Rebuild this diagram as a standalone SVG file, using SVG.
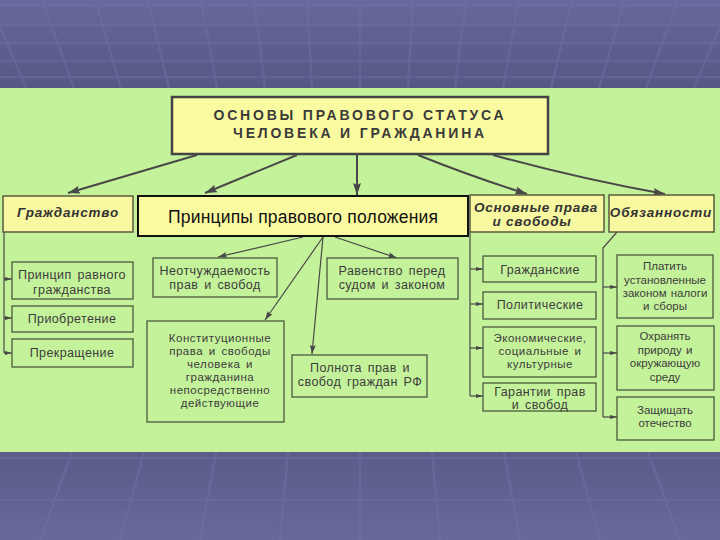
<svg xmlns="http://www.w3.org/2000/svg" width="720" height="540" viewBox="0 0 720 540">
<defs>
<linearGradient id="gTop" x1="0" y1="0" x2="0" y2="1"><stop offset="0" stop-color="#68689c"/><stop offset="1" stop-color="#555783"/></linearGradient>
<linearGradient id="gBot" x1="0" y1="0" x2="0" y2="1"><stop offset="0" stop-color="#5c5c8a"/><stop offset="1" stop-color="#68689a"/></linearGradient>
<marker id="aL" markerUnits="userSpaceOnUse" viewBox="0 0 12 8" markerWidth="12" markerHeight="8" refX="12" refY="4" orient="auto"><path d="M0,0 L12,4 L0,8 L2,4 z" fill="#484848"/></marker>
<marker id="aS" markerUnits="userSpaceOnUse" viewBox="0 0 9 6" markerWidth="9" markerHeight="6" refX="9" refY="3" orient="auto"><path d="M0,0 L9,3 L0,6 L1.5,3 z" fill="#484848"/></marker>
<marker id="aT" markerUnits="userSpaceOnUse" viewBox="0 0 7 4" markerWidth="7" markerHeight="4" refX="7" refY="2" orient="auto"><path d="M0,0 L7,2 L0,4 z" fill="#484848"/></marker>
</defs>
<style>
.grid{stroke:#7272a6;stroke-width:2.5;opacity:0.45;fill:none}
.box{fill:none;stroke:#4b5a3c;stroke-width:1.3}
.hdr{fill:#f8f8a0;stroke:#5a5a40;stroke-width:1.5}
.t{font-family:"Liberation Sans",Arial,sans-serif;font-size:12.5px;fill:#3c3c3c;text-anchor:middle;letter-spacing:0.4px;word-spacing:2px}
.ts{font-family:"Liberation Sans",Arial,sans-serif;font-size:11.5px;fill:#3c3c3c;text-anchor:middle;letter-spacing:0.5px;word-spacing:2px}
.t2{font-family:"Liberation Sans",Arial,sans-serif;font-size:11.5px;fill:#3c3c3c;text-anchor:middle;word-spacing:1px}
.h{font-family:"Liberation Sans",Arial,sans-serif;font-size:13.5px;font-weight:bold;font-style:italic;fill:#333;text-anchor:middle;letter-spacing:0.8px}
.c1{stroke:#484848;stroke-width:2;fill:none;marker-end:url(#aL)}
.c2{stroke:#484848;stroke-width:1.2;fill:none;marker-end:url(#aS)}
.c3{stroke:#484848;stroke-width:1.2;fill:none}
.c4{stroke:#484848;stroke-width:1.2;fill:none;marker-end:url(#aT)}
</style>
<g id="background">
<rect x="0" y="0" width="720" height="540" fill="#60608f"/>
<rect x="0" y="0" width="720" height="88" fill="url(#gTop)"/>
<rect x="0" y="452" width="720" height="88" fill="url(#gBot)"/>
<path class="grid" d="M0,5H720M0,25H720M0,43H720M0,61H720M0,77H720
M-11,0L26,88M42,0L74,88M95,0L121,88M148,0L169,88M201,0L217,88M254,0L265,88M307,0L312,88M360,0L360,88M413,0L408,88M466,0L455,88M519,0L503,88M572,0L551,88M625,0L599,88M678,0L646,88M731,0L694,88"/>
<path class="grid" d="M0,458H720M0,500H720
M-72,452L-120,540M0,452L-40,540M72,452L40,540M144,452L120,540M216,452L200,540M288,452L280,540M360,452L360,540M432,452L440,540M504,452L520,540M576,452L600,540M648,452L680,540M720,452L760,540"/>
<rect x="0" y="88" width="720" height="364" fill="#c4f29a"/>
</g>
<g id="connectors">
<path class="c1" d="M197,155 L68,193"/>
<path class="c1" d="M297,155 L205,193"/>
<path class="c1" d="M357,155 L357,195"/>
<path class="c1" d="M418,155 Q470,176 527,194"/>
<path class="c1" d="M493,155 Q580,179 665,194"/>
<path class="c2" d="M303,237 L218,257"/>
<path class="c2" d="M335,237 L397,258"/>
<path class="c2" d="M323,237 L265,320"/>
<path class="c2" d="M323,237 L312,354"/>
<path class="c3" d="M4,232 V353"/>
<path class="c4" d="M4,279 H12"/>
<path class="c4" d="M4,318 H12"/>
<path class="c4" d="M4,353 H12"/>
<path class="c3" d="M470,232 V396"/>
<path class="c4" d="M470,269 H483"/>
<path class="c4" d="M470,304 H483"/>
<path class="c4" d="M470,348 H483"/>
<path class="c4" d="M470,396 H483"/>
<path class="c3" d="M617,232 L603,248 V417"/>
<path class="c4" d="M603,287 H617"/>
<path class="c4" d="M603,353 H617"/>
<path class="c4" d="M603,417 H617"/>
</g>
<g id="title">
<rect x="172" y="97" width="376" height="57" fill="#fafaa0" stroke="#444" stroke-width="2.5"/>
<text x="360" y="120" font-family="Liberation Sans, Arial, sans-serif" font-size="14" font-weight="bold" fill="#3a3a3a" text-anchor="middle" letter-spacing="2.8">ОСНОВЫ ПРАВОВОГО СТАТУСА</text>
<text x="360" y="138" font-family="Liberation Sans, Arial, sans-serif" font-size="14" font-weight="bold" fill="#3a3a3a" text-anchor="middle" letter-spacing="2.8">ЧЕЛОВЕКА И ГРАЖДАНИНА</text>
</g>
<g id="citizenship">
<rect class="hdr" x="3" y="196" width="130" height="36"/>
<text class="h" x="68" y="217">Гражданство</text>
</g>
<g id="principles">
<rect x="138" y="196" width="330" height="40" fill="#fafaa0" stroke="#111" stroke-width="2"/>
<text x="303" y="223" font-family="Liberation Sans, Arial, sans-serif" font-size="17.5" fill="#111" text-anchor="middle" textLength="270" lengthAdjust="spacing">Принципы правового положения</text>
</g>
<g id="rights">
<rect class="hdr" x="470" y="195" width="134" height="37"/>
<text class="h" x="536" y="212">Основные права</text>
<text class="h" x="532" y="226">и свободы</text>
</g>
<g id="duties">
<rect class="hdr" x="609" y="195" width="105" height="37"/>
<text class="h" x="661" y="217" letter-spacing="0.5">Обязанности</text>
</g>
<g id="equal-citizenship">
<rect class="box" x="12" y="262" width="121" height="37"/>
<text class="t" x="72" y="279">Принцип равного</text>
<text class="t" x="72" y="294">гражданства</text>
</g>
<g id="acquisition">
<rect class="box" x="12" y="306" width="121" height="26"/>
<text class="t" x="72" y="323">Приобретение</text>
</g>
<g id="termination">
<rect class="box" x="12" y="339" width="121" height="28"/>
<text class="t" x="72" y="357">Прекращение</text>
</g>
<g id="inalienability">
<rect class="box" x="153" y="258" width="124" height="39"/>
<text class="t" x="215" y="275">Неотчуждаемость</text>
<text class="t" x="215" y="289">прав и свобод</text>
</g>
<g id="equality">
<rect class="box" x="327" y="258" width="131" height="41"/>
<text class="t" x="392" y="275">Равенство перед</text>
<text class="t" x="392" y="289">судом и законом</text>
</g>
<g id="constitutional">
<rect class="box" x="147" y="321" width="137" height="101"/>
<text class="ts" x="220" y="342">Конституционные</text>
<text class="ts" x="220" y="355">права и свободы</text>
<text class="ts" x="220" y="368">человека и</text>
<text class="ts" x="220" y="381">гражданина</text>
<text class="ts" x="220" y="394">непосредственно</text>
<text class="ts" x="220" y="407">действующие</text>
</g>
<g id="completeness">
<rect class="box" x="292" y="355" width="135" height="42"/>
<text class="t" x="360" y="372">Полнота прав и</text>
<text class="t" x="360" y="386">свобод граждан РФ</text>
</g>
<g id="civil">
<rect class="box" x="483" y="256" width="113" height="26"/>
<text class="t" x="540" y="274">Гражданские</text>
</g>
<g id="political">
<rect class="box" x="483" y="292" width="113" height="27"/>
<text class="t" x="540" y="309">Политические</text>
</g>
<g id="economic">
<rect class="box" x="483" y="327" width="113" height="50"/>
<text class="ts" x="540" y="342">Экономические,</text>
<text class="ts" x="540" y="355">социальные и</text>
<text class="ts" x="540" y="368">культурные</text>
</g>
<g id="guarantees">
<rect class="box" x="483" y="383" width="113" height="28"/>
<text class="t" x="540" y="396">Гарантии прав</text>
<text class="t" x="540" y="409">и свобод</text>
</g>
<g id="taxes">
<rect class="box" x="617" y="255" width="96" height="63"/>
<text class="t2" x="665" y="270">Платить</text>
<text class="t2" x="665" y="284">установленные</text>
<text class="t2" x="665" y="297">законом налоги</text>
<text class="t2" x="665" y="310">и сборы</text>
</g>
<g id="nature">
<rect class="box" x="617" y="326" width="97" height="64"/>
<text class="t2" x="665" y="340">Охранять</text>
<text class="t2" x="665" y="354">природу и</text>
<text class="t2" x="665" y="367">окружающую</text>
<text class="t2" x="665" y="381">среду</text>
</g>
<g id="defend">
<rect class="box" x="617" y="397" width="97" height="43"/>
<text class="t2" x="665" y="414">Защищать</text>
<text class="t2" x="665" y="427">отечество</text>
</g>
</svg>
